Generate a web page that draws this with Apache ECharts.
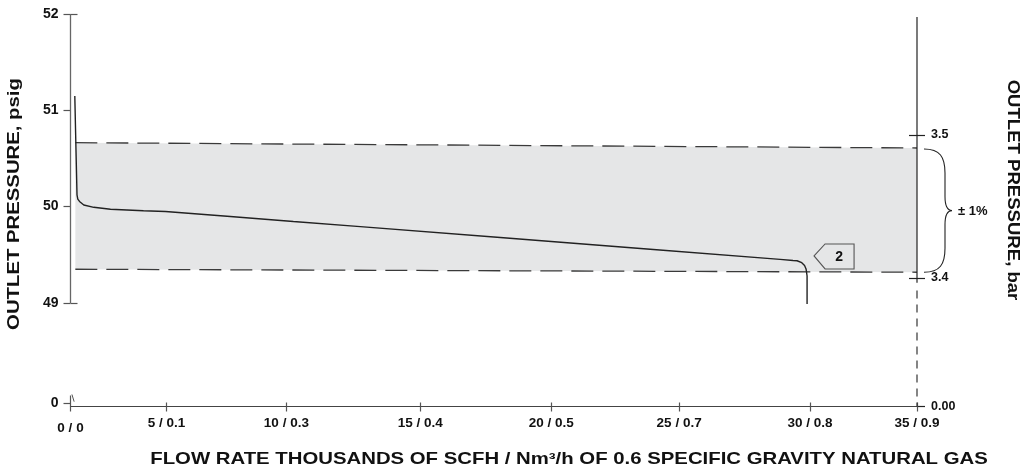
<!DOCTYPE html>
<html>
<head>
<meta charset="utf-8">
<style>html,body{margin:0;padding:0;background:#fff}#c{width:1023px;height:470px}</style>
<script src="https://cdn.jsdelivr.net/npm/echarts@6/dist/echarts.min.js"></script>
</head>
<body>
<div id="c"></div>
<script>
// ---- data ----
const xTickPos = [0, 3.967, 8.926, 14.463, 19.876, 25.165, 30.579, 35];
const xTickLabels = ['0 / 0', '5 / 0.1', '10 / 0.3', '15 / 0.4', '20 / 0.5', '25 / 0.7', '30 / 0.8', '35 / 0.9'];
const psigTicks = [47.96, 49, 50, 51, 52];
const psigTickLabels = ['0', '49', '50', '51', '52'];
const barTicks = [3.3101, 3.4, 3.5];
const barTickLabels = ['0.00', '3.4', '3.5'];

const curveFlow = [0.178, 0.227, 0.269, 0.302, 0.372, 0.55, 0.963, 1.653, 3.017, 3.926, 6.475, 9.215, 11.983, 17.769, 23.967, 29.339, 29.876, 30.04, 30.235, 30.351, 30.413, 30.455, 30.455];
const curvePsig = [51.149, 50.588, 50.121, 50.079, 50.054, 50.017, 49.993, 49.973, 49.958, 49.950, 49.900, 49.846, 49.792, 49.679, 49.557, 49.452, 49.441, 49.438, 49.418, 49.389, 49.353, 49.280, 48.990];

const bandFlow = [0.2, 35];
const bandUpper = [50.664, 50.609];
const bandLower = [49.35, 49.319];

const calloutFlow = 30.744, calloutPsig = 49.488, calloutText = '2';
const braceText = '± 1%';

const X_MIN = 0, X_MAX = 35;
const Y_MIN = 47.925, Y_MAX = 52;
const B_MIN = 3.3101, B_MAX = 3.5846;

const FONT = '"Liberation Sans", Arial, Helvetica, sans-serif';

function labelFor(ticks, labels, v) {
  let best = 0, d = Infinity;
  ticks.forEach((t, i) => { const dd = Math.abs(t - v); if (dd < d) { d = dd; best = i; } });
  return labels[best];
}
const zip = (a, b) => a.map((v, i) => [v, b[i]]);

const chart = echarts.init(document.getElementById('c'), null, {renderer: 'canvas'});

const tickStyle = {color: '#555', width: 1.2};
const option = {
  animation: false,
  grid: {left: 70.5, right: 106, top: 14, bottom: 63.5, containLabel: false},
  xAxis: [
    {
      type: 'value', min: X_MIN, max: X_MAX, position: 'bottom',
      axisLine: {show: true, onZero: false, lineStyle: {color: '#444', width: 1.2}},
      axisTick: {show: true, length: 5, customValues: xTickPos, lineStyle: tickStyle},
      axisLabel: {
        show: true, customValues: xTickPos, margin: 10,
        color: '#111', fontFamily: FONT, fontWeight: 'bold', fontSize: 13.5,
        formatter: v => { const s = labelFor(xTickPos, xTickLabels, v); return v < 0.5 ? '{low|' + s + '}' : s; },
        rich: {low: {padding: [5, 0, 0, 0], color: '#111', fontFamily: FONT, fontWeight: 'bold', fontSize: 13.5}}
      },
      splitLine: {show: false}
    },
    {
      type: 'value', min: X_MIN, max: X_MAX, position: 'bottom',
      axisLine: {show: false, onZero: false},
      axisTick: {show: true, inside: true, length: 4, customValues: xTickPos.slice(1), lineStyle: tickStyle},
      axisLabel: {show: false}, splitLine: {show: false}
    }
  ],
  yAxis: [
    {
      type: 'value', min: Y_MIN, max: Y_MAX, position: 'left',
      axisLine: {show: false, onZero: false},
      axisTick: {show: true, length: 7, customValues: psigTicks, lineStyle: tickStyle},
      axisLabel: {
        show: true, customValues: psigTicks, margin: 12,
        color: '#111', fontFamily: FONT, fontWeight: 'bold', fontSize: 14,
        formatter: v => labelFor(psigTicks, psigTickLabels, v)
      },
      splitLine: {show: false}
    },
    {
      type: 'value', min: Y_MIN, max: Y_MAX, position: 'left',
      axisLine: {show: false, onZero: false},
      axisTick: {show: true, inside: true, length: 7, customValues: [49, 52], lineStyle: tickStyle},
      axisLabel: {show: false}, splitLine: {show: false}
    },
    {
      type: 'value', min: B_MIN, max: B_MAX, position: 'right',
      axisLine: {show: false, onZero: false},
      axisTick: {show: true, length: 8, customValues: barTicks, lineStyle: {color: '#222', width: 1.2}},
      axisLabel: {
        show: true, customValues: barTicks, margin: 14,
        color: '#111', fontFamily: FONT, fontWeight: 'bold', fontSize: 12.5,
        formatter: v => labelFor(barTicks, barTickLabels, v)
      },
      splitLine: {show: false}
    },
    {
      type: 'value', min: B_MIN, max: B_MAX, position: 'right',
      axisLine: {show: false, onZero: false},
      axisTick: {show: true, inside: true, length: 8, customValues: barTicks.slice(1), lineStyle: {color: '#222', width: 1.2}},
      axisLabel: {show: false}, splitLine: {show: false}
    }
  ],
  graphic: [
    {type: 'text', x: 15, y: 204, rotation: Math.PI / 2, scaleX: 1.27,
      style: {text: 'OUTLET PRESSURE, psig', font: 'bold 16px ' + FONT, fill: '#111', textAlign: 'center', textVerticalAlign: 'middle'}},
    {type: 'text', x: 1012, y: 190, rotation: -Math.PI / 2, scaleX: 1.16,
      style: {text: 'OUTLET PRESSURE, bar', font: 'bold 16px ' + FONT, fill: '#111', textAlign: 'center', textVerticalAlign: 'middle'}},
    {type: 'text', x: 569, y: 459, scaleX: 1.233,
      style: {text: 'FLOW RATE THOUSANDS OF SCFH / Nm³/h OF 0.6 SPECIFIC GRAVITY NATURAL GAS', font: 'bold 16.5px ' + FONT, fill: '#111', textAlign: 'center', textVerticalAlign: 'middle'}}
  ],
  series: [
    { // tolerance band fill
      type: 'custom', z: 1, silent: true, clip: false,
      data: [[bandFlow[0], bandUpper[0]]],
      renderItem: (params, api) => {
        const pts = [];
        bandFlow.forEach((f, i) => pts.push(api.coord([f, bandUpper[i]])));
        for (let i = bandFlow.length - 1; i >= 0; i--) pts.push(api.coord([bandFlow[i], bandLower[i]]));
        return {type: 'polygon', shape: {points: pts}, style: {fill: '#e5e6e7'}};
      }
    },
    {type: 'line', z: 2, silent: true, symbol: 'none', data: zip(bandFlow, bandUpper),
      lineStyle: {color: '#3a3a3a', width: 1.3, type: [22, 9]}},
    {type: 'line', z: 2, silent: true, symbol: 'none', data: zip(bandFlow, bandLower),
      lineStyle: {color: '#3a3a3a', width: 1.3, type: [22, 9]}},
    { // left axis line (49..52)
      type: 'line', z: 3, silent: true, symbol: 'none', data: [[X_MIN, 49], [X_MIN, Y_MAX]],
      lineStyle: {color: '#666', width: 1.3}},
    { // axis break near 0
      type: 'line', z: 3, silent: true, symbol: 'none', data: [[X_MIN, Y_MIN], [X_MIN, 48.04]],
      lineStyle: {color: '#555', width: 1.2}},
    {type: 'line', z: 3, silent: true, symbol: 'none', data: [[0.06, 48.05], [0.15, 47.975]],
      lineStyle: {color: '#555', width: 1}},
    { // right axis solid
      type: 'line', z: 3, silent: true, symbol: 'none', data: [[X_MAX, 51.97], [X_MAX, 49.21]],
      lineStyle: {color: '#222', width: 1.2}},
    { // right axis dashed
      type: 'line', z: 3, silent: true, symbol: 'none', data: [[X_MAX, 49.13], [X_MAX, Y_MIN]],
      lineStyle: {color: '#333', width: 1.2, type: [8, 6]}},
    { // regulator curve
      type: 'line', z: 4, silent: true, symbol: 'none', data: zip(curveFlow, curvePsig),
      lineStyle: {color: '#222', width: 1.4}},
    { // brace, ±1% label and callout
      type: 'custom', z: 5, silent: true, clip: false,
      data: [[X_MAX, bandUpper[1]]],
      renderItem: (params, api) => {
        const t = api.coord([X_MAX, bandUpper[bandUpper.length - 1]]);
        const b = api.coord([X_MAX, bandLower[bandLower.length - 1]]);
        const x0 = t[0] + 7, T = t[1] + 1, B = b[1], M = (T + B) / 2;
        const w = 21, tip = 28;
        const d = `M${x0},${T} C${x0 + 16},${T} ${x0 + w},${T + 8} ${x0 + w},${T + 24} L${x0 + w},${M - 14} C${x0 + w},${M - 4} ${x0 + 24},${M} ${x0 + tip},${M} C${x0 + 24},${M} ${x0 + w},${M + 4} ${x0 + w},${M + 14} L${x0 + w},${B - 24} C${x0 + w},${B - 8} ${x0 + 16},${B} ${x0},${B}`;
        const c = api.coord([calloutFlow, calloutPsig]);
        const cx = c[0], cy = c[1];
        return {
          type: 'group',
          children: [
            {type: 'path', shape: {pathData: d}, style: {fill: null, stroke: '#222', lineWidth: 1.1}},
            {type: 'text', x: x0 + tip + 6, y: M + 1,
              style: {text: braceText, font: 'bold 13px ' + FONT, fill: '#111', textAlign: 'left', textVerticalAlign: 'middle'}},
            {type: 'polygon', shape: {points: [[cx, cy], [cx + 11, cy - 12], [cx + 40, cy - 12], [cx + 40, cy + 13], [cx + 11, cy + 13]]},
              style: {fill: '#e5e6e7', stroke: '#555', lineWidth: 1.1}},
            {type: 'text', x: cx + 25, y: cy + 1,
              style: {text: calloutText, font: 'bold 14px ' + FONT, fill: '#111', textAlign: 'center', textVerticalAlign: 'middle'}}
          ]
        };
      }
    }
  ]
};
chart.setOption(option);
</script>
</body>
</html>
